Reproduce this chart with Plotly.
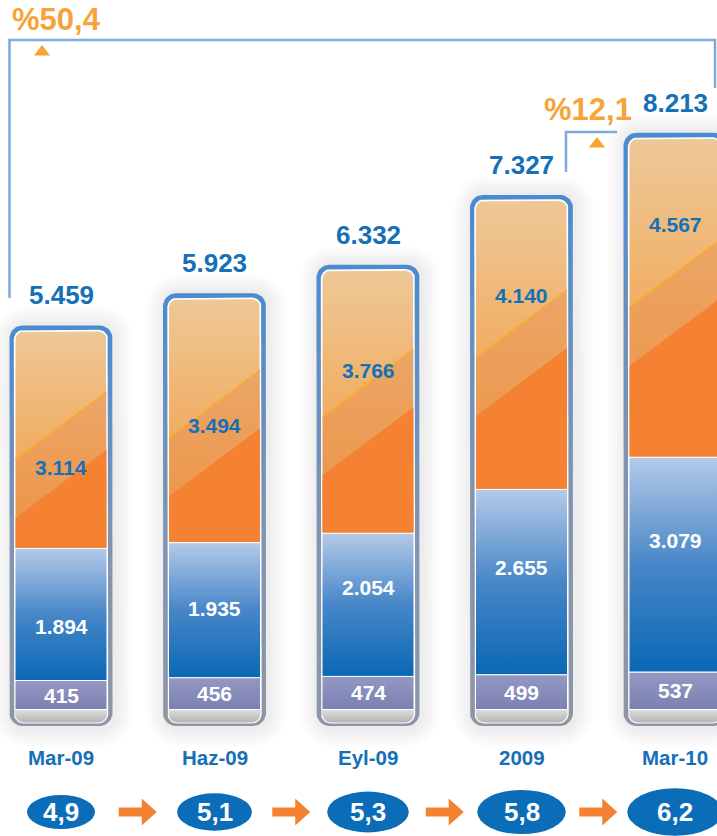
import numpy as np
import plotly.graph_objects as go

# ---------------- data ----------------
categories = ["Mar-09", "Haz-09", "Eyl-09", "2009", "Mar-10"]
seg_base = [415, 456, 474, 499, 537]
seg_mid = [1894, 1935, 2054, 2655, 3079]
seg_top = [3114, 3494, 3766, 4140, 4567]
totals = [5459, 5923, 6332, 7327, 8213]
ratios = [4.9, 5.1, 5.3, 5.8, 6.2]
growth_long = 50.4   # Mar-09 -> Mar-10
growth_short = 12.1  # 2009 -> Mar-10

# ---------------- style-only lists ----------------
top_label_pos = [0.63, 0.52, 0.38, 0.33, 0.27]
mid_label_pos = [0.59, 0.49, 0.38, 0.42, 0.39]

W, H = 717, 836
X0, SX = 61.0, 153.5
Y0, KY = 709.5, 0.0698


def px2x(p):
    return (p - X0) / SX


def px2y(p):
    return (Y0 - p) / KY


def dxp(p):
    return p / SX


def dyp(p):
    return p / KY


def fmt_int(n):
    return f"{n:,}".replace(",", ".")


def fmt_dec(v):
    return f"{v:.1f}".replace(".", ",")


def rrect(xc, hw_px, yb, yt, rt_px=0.0, rb_px=0.0, n=10):
    L, R = xc - dxp(hw_px), xc + dxp(hw_px)
    xs, ys = [], []

    def arc(cx, cy, rpx, a0, a1):
        for t in np.linspace(a0, a1, n):
            xs.append(cx + dxp(rpx) * np.cos(t))
            ys.append(cy + dyp(rpx) * np.sin(t))

    arc(R - dxp(rb_px), yb + dyp(rb_px), rb_px, -np.pi / 2, 0)
    arc(R - dxp(rt_px), yt - dyp(rt_px), rt_px, 0, np.pi / 2)
    arc(L + dxp(rt_px), yt - dyp(rt_px), rt_px, np.pi / 2, np.pi)
    arc(L + dxp(rb_px), yb + dyp(rb_px), rb_px, np.pi, 1.5 * np.pi)
    xs.append(xs[0])
    ys.append(ys[0])
    return xs, ys


def poly(xs, ys, color=None, grad=None, lc=None, lw=0):
    kw = dict(x=xs, y=ys, mode="lines", fill="toself", hoverinfo="skip",
              showlegend=False,
              line=dict(width=lw, color=lc or "rgba(0,0,0,0)"))
    if grad is not None:
        kw["fillgradient"] = dict(type="vertical", colorscale=grad)
    else:
        kw["fillcolor"] = color
    return go.Scatter(**kw)


FONT = "Liberation Sans, Arial, sans-serif"
BLUE_TXT = "#1570b8"
ORANGE_TXT = "#f6a43a"


def fnt(size, color):
    return dict(size=size, color=color, family=FONT, weight="bold")


fig = go.Figure()
annotations = []
shapes = []

HW_IN = 46.0
HW_FR = 51.5

for i in range(len(categories)):
    c = i
    b1 = seg_base[i]
    b2 = b1 + seg_mid[i]
    b3 = b2 + seg_top[i]

    # soft shadow
    for k in range(6, 0, -1):
        xs, ys = rrect(c + dxp(2), HW_FR + 3 * k, px2y(728 + 3 * k), b3 + dyp(6 + 3 * k),
                       14 + 3 * k, 14 + 3 * k)
        fig.add_trace(poly(xs, ys, color="rgba(90,90,90,0.02)"))

    # frame
    xs, ys = rrect(c, HW_FR, px2y(726), b3 + dyp(5.5), 13, 13)
    fig.add_trace(poly(xs, ys, grad=[[0, "#8e96a4"], [0.45, "#8094b2"], [1, "#4a8bd1"]]))
    # white inner outline
    xs, ys = rrect(c, HW_IN + 1.2, px2y(723.5), b3 + dyp(1.2), 10, 10)
    fig.add_trace(poly(xs, ys, color="#ffffff"))
    # grey base
    xs, ys = rrect(c, HW_IN, px2y(722.5), 0 - dyp(0.5), 0, 9)
    fig.add_trace(poly(xs, ys, grad=[[0, "#b4b4b4"], [1, "#dcdcdc"]]))

    # bottom segment
    xs, ys = rrect(c, HW_IN, 0, b1)
    fig.add_trace(poly(xs, ys, grad=[[0, "#7a80b1"], [1, "#9498c4"]], lc="#ffffff", lw=1))
    # middle (blue) segment
    xs, ys = rrect(c, HW_IN, b1, b2)
    fig.add_trace(poly(xs, ys, grad=[[0, "#0a68b4"], [0.5, "#4786c8"], [1, "#b5cae8"]],
                       lc="#ffffff", lw=1))
    # top (orange) segment
    xs, ys = rrect(c, HW_IN, b2, b3, 9, 0)
    fig.add_trace(poly(xs, ys, grad=[[0, "#f09c45"], [0.5, "#f0b066"], [1, "#eec898"]],
                       lc="#ffffff", lw=1))

    # diagonal light / solid areas inside the orange segment
    L, R = c - dxp(HW_IN - 0.5), c + dxp(HW_IN - 0.5)
    h_px = seg_top[i] * KY
    top_dist = 100 + 0.4 * h_px
    y_sl = b3 - dyp(top_dist)
    y_sr = min(y_sl + dyp(0.74 * 92), b3 - dyp(12))
    band = dyp(58)
    y_ll = min(y_sl + band, b3 - dyp(10))
    y_lr = min(y_sr + band, b3 - dyp(10))
    fig.add_trace(poly([L, R, R, L, L], [y_sl, y_sr, y_lr, y_ll, y_sl],
                       color="rgba(226,128,72,0.32)"))
    fig.add_trace(go.Scatter(x=[L, R], y=[y_ll, y_lr], mode="lines", hoverinfo="skip",
                             showlegend=False,
                             line=dict(color="rgba(250,170,40,0.9)", width=1.6)))
    fig.add_trace(poly([L, R, R, L, L], [b2 + dyp(0.5), b2 + dyp(0.5), y_sr, y_sl, b2 + dyp(0.5)],
                       color="#f58233"))

    # labels
    annotations.append(dict(x=c, y=totals[i], yshift=33, text=fmt_int(totals[i]),
                            showarrow=False, font=fnt(26, BLUE_TXT)))
    annotations.append(dict(x=c, y=b3 - top_label_pos[i] * seg_top[i], text=fmt_int(seg_top[i]),
                            showarrow=False, font=fnt(21, BLUE_TXT)))
    annotations.append(dict(x=c, y=b2 - mid_label_pos[i] * seg_mid[i], text=fmt_int(seg_mid[i]),
                            showarrow=False, font=fnt(21, "#ffffff")))
    annotations.append(dict(x=c, y=b1 / 2, text=fmt_int(seg_base[i]),
                            showarrow=False, font=fnt(21, "#ffffff")))
    annotations.append(dict(x=c, y=px2y(757), text=categories[i],
                            showarrow=False, font=fnt(20.5, BLUE_TXT)))

    # ratio ellipses
    w = 68 + 6.8 * i
    hgt = 0.5 * w
    shapes.append(dict(type="circle", xref="x", yref="y",
                       x0=c - dxp(w / 2), x1=c + dxp(w / 2),
                       y0=px2y(812 + hgt / 2), y1=px2y(812 - hgt / 2),
                       fillcolor="#0b6cb7", line=dict(width=0), layer="above"))
    annotations.append(dict(x=c, y=px2y(812), text=fmt_dec(ratios[i]), showarrow=False,
                            font=fnt(26, "#ffffff")))

    # arrows between ellipses
    if i < len(categories) - 1:
        cx = i + 0.5
        pts = [(-19, -4.5), (4, -4.5), (4, -13.5), (19, 0), (4, 13.5), (4, 4.5), (-19, 4.5)]
        path = "M " + " L ".join(f"{cx + dxp(px)},{px2y(812 + py)}" for px, py in pts) + " Z"
        shapes.append(dict(type="path", xref="x", yref="y", path=path,
                           fillcolor="#f58233", line=dict(width=0), layer="above"))

# growth brackets
LINE_C = "#7eaadc"
fig.add_trace(go.Scatter(x=[0 - dxp(HW_FR), 0 - dxp(HW_FR), px2x(715), px2x(715)],
                         y=[px2y(298), px2y(40), px2y(40), px2y(88)],
                         mode="lines", line=dict(color=LINE_C, width=2.5),
                         hoverinfo="skip", showlegend=False))
fig.add_trace(go.Scatter(x=[px2x(566), px2x(566), px2x(617)],
                         y=[px2y(172), px2y(132), px2y(132)],
                         mode="lines", line=dict(color=LINE_C, width=2.5),
                         hoverinfo="skip", showlegend=False))
fig.add_trace(go.Scatter(x=[px2x(42), px2x(597)], y=[px2y(52), px2y(144)], mode="markers",
                         marker=dict(symbol="triangle-up", size=14, color="#f7a333"),
                         hoverinfo="skip", showlegend=False))
annotations.append(dict(x=px2x(56), y=px2y(19), text="%" + fmt_dec(growth_long), showarrow=False,
                        font=fnt(31, ORANGE_TXT)))
annotations.append(dict(x=px2x(588), y=px2y(109), text="%" + fmt_dec(growth_short), showarrow=False,
                        font=fnt(31, ORANGE_TXT)))

fig.update_layout(
    width=W, height=H, margin=dict(l=0, r=0, t=0, b=0),
    paper_bgcolor="#ffffff", plot_bgcolor="#ffffff",
    xaxis=dict(range=[px2x(0), px2x(W)], visible=False, fixedrange=True),
    yaxis=dict(range=[px2y(H), px2y(0)], visible=False, fixedrange=True),
    annotations=annotations, shapes=shapes, showlegend=False,
)

fig.write_html("out.html", config={"displayModeBar": False},
               post_script="document.body.style.margin='0px';document.body.style.overflow='hidden';")
